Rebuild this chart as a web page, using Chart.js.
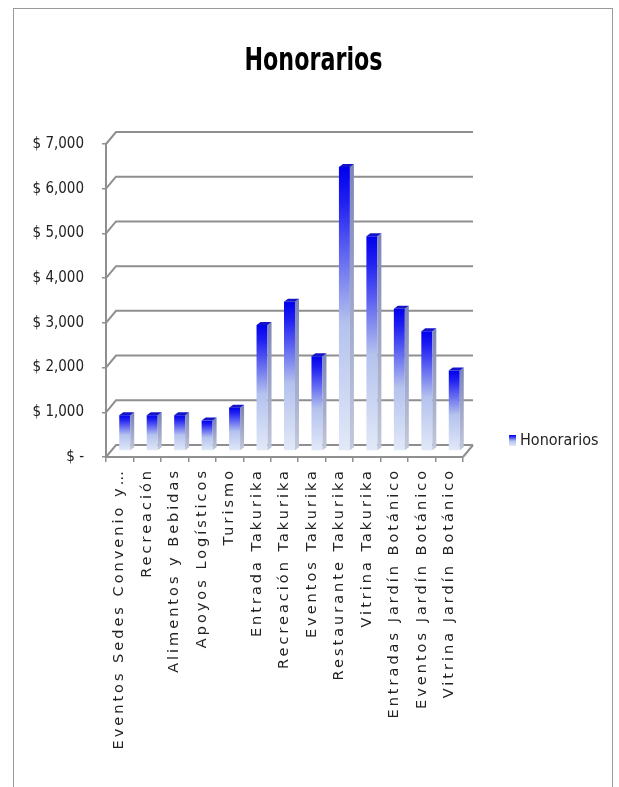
<!DOCTYPE html>
<html>
<head>
<meta charset="utf-8">
<title>Honorarios</title>
<script src="https://cdn.jsdelivr.net/npm/chart.js@4.4.1/dist/chart.umd.min.js"></script>
<style>
  html, body { margin: 0; padding: 0; background: #fff; }
  #frame { position: absolute; left: 13px; top: 8px; width: 598px; height: 800px; border: 1px solid #9a9a9a; border-bottom: none; }
  #wrap { position: absolute; left: 0; top: 0; width: 619px; height: 787px; }
</style>
</head>
<body>
<div id="frame"></div>
<div id="wrap"><canvas id="chart"></canvas></div>
<script>
const chartTitle = 'Honorarios';
const categories = [
  'Eventos Sedes Convenio y…',
  'Recreación',
  'Alimentos y Bebidas',
  'Apoyos Logísticos',
  'Turismo',
  'Entrada Takurika',
  'Recreación Takurika',
  'Eventos Takurika',
  'Restaurante Takurika',
  'Vitrina Takurika',
  'Entradas Jardín Botánico',
  'Eventos Jardín Botánico',
  'Vitrina Jardín Botánico'
];
const honorarios = [800, 800, 800, 680, 970, 2820, 3340, 2120, 6350, 4800, 3180, 2680, 1800];
const yTickValues = [0, 1000, 2000, 3000, 4000, 5000, 6000, 7000];

const NARROW = '"Liberation Sans Narrow", "DejaVu Sans Condensed", "Liberation Sans", sans-serif';
const GRID = '#8f8f8f';
// depth of the back wall, bars sit half way in
const DEPTH_X = 10;
const DEPTH_Y = 12;
const SIDE_X = 4;
const SIDE_Y = 3;

function fmtMoney(v) {
  return v === 0 ? '$ -' : '$ ' + v.toLocaleString('en-US');
}

function barGradient(ctx, top, bottom) {
  const g = ctx.createLinearGradient(0, top, 0, bottom);
  g.addColorStop(0, '#0000ee');
  g.addColorStop(0.12, '#1f1ff2');
  g.addColorStop(0.55, '#b4c2ee');
  g.addColorStop(1, '#e2e9f8');
  return g;
}

const wall3d = {
  id: 'wall3d',
  beforeDatasetsDraw(chart) {
    const { ctx, chartArea, scales } = chart;
    ctx.save();
    ctx.strokeStyle = GRID;
    ctx.lineWidth = 2;
    // back wall gridlines, bent back from the front axis
    yTickValues.forEach(v => {
      const y = scales.y.getPixelForValue(v);
      ctx.beginPath();
      ctx.moveTo(chartArea.left, y);
      ctx.lineTo(chartArea.left + DEPTH_X, y - DEPTH_Y);
      ctx.lineTo(chartArea.right + DEPTH_X, y - DEPTH_Y);
      ctx.stroke();
    });
    // right edge of the floor
    const y0 = scales.y.getPixelForValue(0);
    ctx.beginPath();
    ctx.moveTo(chartArea.right, y0);
    ctx.lineTo(chartArea.right + DEPTH_X, y0 - DEPTH_Y);
    ctx.stroke();
    ctx.restore();

    ctx.save();
    ctx.translate(DEPTH_X / 2, -DEPTH_Y / 2);
  },
  afterDatasetsDraw(chart) {
    const { ctx } = chart;
    chart.getDatasetMeta(0).data.forEach(el => {
      const { x, y, base, width } = el.getProps(['x', 'y', 'base', 'width'], true);
      const l = x - width / 2;
      const r = x + width / 2;
      // side face
      const sg = ctx.createLinearGradient(0, y, 0, base);
      sg.addColorStop(0, '#7d86b8');
      sg.addColorStop(1, '#c3c9db');
      ctx.fillStyle = sg;
      ctx.beginPath();
      ctx.moveTo(r, y);
      ctx.lineTo(r + SIDE_X, y - SIDE_Y);
      ctx.lineTo(r + SIDE_X, base - SIDE_Y);
      ctx.lineTo(r, base);
      ctx.closePath();
      ctx.fill();
      // top face
      ctx.fillStyle = '#1414c8';
      ctx.beginPath();
      ctx.moveTo(l, y);
      ctx.lineTo(l + SIDE_X, y - SIDE_Y);
      ctx.lineTo(r + SIDE_X, y - SIDE_Y);
      ctx.lineTo(r, y);
      ctx.closePath();
      ctx.fill();
    });
    ctx.restore();
    // wide spacing for the category labels drawn next (x ticks sit on z 1)
    ctx.letterSpacing = '3px';
  },
  afterDraw(chart) {
    const { ctx } = chart;
    ctx.letterSpacing = '0px';

    // title, squeezed to a narrow face
    ctx.save();
    ctx.font = 'bold 32px ' + NARROW;
    ctx.fillStyle = '#000';
    ctx.textAlign = 'center';
    ctx.textBaseline = 'alphabetic';
    const w = ctx.measureText(chartTitle).width;
    ctx.translate(313.5, 70);
    ctx.scale(Math.min(1, 138 / w), 1);
    ctx.fillText(chartTitle, 0, 0);
    ctx.restore();

    // legend
    ctx.save();
    const bx = 509, by = 435;
    ctx.fillStyle = barGradient(ctx, by, by + 11);
    ctx.fillRect(bx, by, 7, 11);
    ctx.fillStyle = '#222';
    ctx.font = '16px ' + NARROW;
    ctx.textBaseline = 'middle';
    ctx.fillText(chart.data.datasets[0].label, bx + 11, by + 6);
    ctx.restore();
  }
};

new Chart(document.getElementById('chart'), {
  type: 'bar',
  data: {
    labels: categories,
    datasets: [{
      label: 'Honorarios',
      data: honorarios,
      barPercentage: 0.4,
      categoryPercentage: 1,
      borderWidth: 0,
      backgroundColor: (c) => {
        const chart = c.chart;
        if (!chart.chartArea || c.type !== 'data') return '#3a3af0';
        const y = chart.scales.y;
        return barGradient(chart.ctx, y.getPixelForValue(c.raw), y.getPixelForValue(0));
      }
    }]
  },
  options: {
    responsive: true,
    maintainAspectRatio: false,
    animation: false,
    layout: { padding: { left: 16, right: 8, top: 144, bottom: 0 } },
    plugins: {
      legend: { display: false },
      tooltip: { enabled: false },
      title: { display: false }
    },
    scales: {
      x: {
        grid: { display: true, drawOnChartArea: false, drawTicks: true, tickLength: 5, color: GRID, lineWidth: 1.5 },
        border: { display: true, color: GRID, width: 2 },
        ticks: {
          z: 1,
          autoSkip: false,
          minRotation: 90,
          maxRotation: 90,
          padding: 6,
          color: '#222',
          font: { family: 'DejaVu Sans', size: 14.5 }
        },
        afterFit: s => { s.height = 330; }
      },
      y: {
        min: 0,
        max: 7000,
        afterBuildTicks: s => { s.ticks = yTickValues.map(v => ({ value: v })); },
        grid: { display: true, drawOnChartArea: false, drawTicks: true, tickLength: 4, color: GRID, lineWidth: 1.5 },
        border: { display: true, color: GRID, width: 2 },
        ticks: {
          padding: 18,
          color: '#222',
          font: { family: NARROW, size: 15 },
          callback: v => fmtMoney(v)
        },
        afterFit: s => { s.width = 90; }
      },
      yPad: {
        position: 'right',
        display: true,
        grid: { display: false },
        border: { display: false },
        ticks: { display: false },
        afterFit: s => { s.width = 148; }
      }
    }
  },
  plugins: [wall3d]
});
</script>
</body>
</html>
